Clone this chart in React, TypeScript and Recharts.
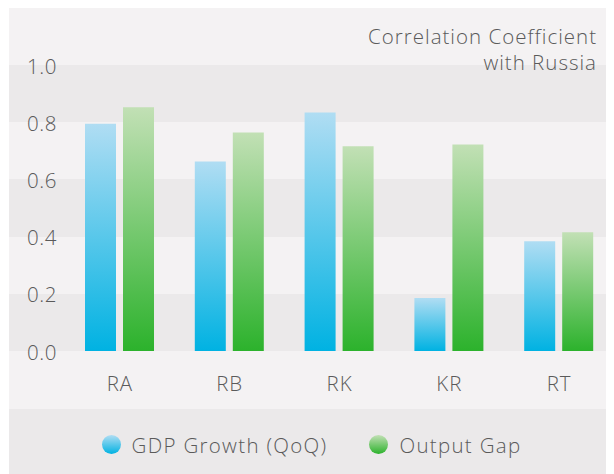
import { BarChart, Bar, XAxis, YAxis, CartesianGrid, Legend } from "recharts";

const CATEGORIES = ["RA", "RB", "RK", "KR", "RT"];
const GDP_GROWTH = [0.795, 0.663, 0.834, 0.185, 0.384];
const OUTPUT_GAP = [0.852, 0.764, 0.716, 0.722, 0.415];
const Y_TICKS = [0, 0.2, 0.4, 0.6, 0.8, 1.0];

const FONT = "'Open Sans', Lato, sans-serif";
const TEXT = "#5a5a5a";
const PANEL = "#f4f2f3";
const BAND = "#ebe9ea";
const FONT_SIZE = 20.5;
const SPACING = 1;

const data = CATEGORIES.map((name, i) => ({
  name,
  gdp: GDP_GROWTH[i],
  gap: OUTPUT_GAP[i],
}));

const SERIES = [
  { key: "gdp", label: "GDP Growth (QoQ)", top: "#b0ddf3", bottom: "#00b2e2" },
  { key: "gap", label: "Output Gap", top: "#c2e0b5", bottom: "#2cb22c" },
];

function YTick({ x, y, payload }: any) {
  return (
    <text
      x={x + 48}
      y={y + 8.5}
      textAnchor="end"
      fill={TEXT}
      fontSize={FONT_SIZE}
      fontWeight={300}
      fontFamily={FONT}
      letterSpacing={0.6}
    >
      {Number(payload.value).toFixed(1)}
    </text>
  );
}

function XTick({ x, y, payload }: any) {
  return (
    <text
      x={x}
      y={y + 40}
      textAnchor="middle"
      fill={TEXT}
      fontSize={FONT_SIZE}
      fontWeight={300}
      fontFamily={FONT}
      letterSpacing={SPACING}
    >
      {payload.value}
    </text>
  );
}

function LegendContent() {
  return (
    <div
      style={{
        display: "flex",
        justifyContent: "center",
        alignItems: "center",
        height: 65,
        paddingTop: 6,
        boxSizing: "border-box",
        gap: 42,
      }}
    >
      {SERIES.map((s) => (
        <div key={s.key} style={{ display: "flex", alignItems: "center", gap: 11 }}>
          <span
            style={{
              display: "inline-block",
              width: 19,
              height: 19,
              borderRadius: "50%",
              background: `linear-gradient(to bottom, ${s.top}, ${s.bottom})`,
            }}
          />
          <span
            style={{
              fontSize: FONT_SIZE,
              fontWeight: 300,
              color: TEXT,
              fontFamily: FONT,
              letterSpacing: 1.3,
            }}
          >
            {s.label}
          </span>
        </div>
      ))}
    </div>
  );
}

export default function App() {
  return (
    <div
      style={{
        position: "relative",
        marginTop: -2,
        marginLeft: 1,
        width: 605,
        height: 468,
        background: PANEL,
        fontFamily: FONT,
      }}
    >
      <div
        style={{
          position: "absolute",
          right: 17,
          top: 17,
          textAlign: "right",
          fontSize: FONT_SIZE,
          fontWeight: 300,
          lineHeight: "26px",
          letterSpacing: SPACING,
          color: TEXT,
          zIndex: 2,
        }}
      >
        Correlation Coefficient
        <br />
        with Russia
      </div>
      <BarChart
        width={605}
        height={468}
        data={data}
        margin={{ top: 59, right: 0, bottom: 0, left: -56 }}
        barSize={31}
        barGap={7}
      >
        <defs>
          {SERIES.map((s) => (
            <linearGradient key={s.key} id={`grad-${s.key}`} x1="0" y1="0" x2="0" y2="1">
              <stop offset="0%" stopColor={s.top} />
              <stop offset="100%" stopColor={s.bottom} />
            </linearGradient>
          ))}
        </defs>
        <CartesianGrid vertical={false} stroke="none" horizontalFill={[BAND, PANEL]} />
        <XAxis
          dataKey="name"
          padding={{ left: 56, right: 0 }}
          axisLine={false}
          tickLine={false}
          tickSize={0}
          tickMargin={0}
          height={58}
          tick={<XTick />}
          interval={0}
        />
        <YAxis
          domain={[0, 1]}
          ticks={Y_TICKS}
          width={56}
          axisLine={false}
          tickLine={false}
          tickSize={0}
          tickMargin={0}
          tick={<YTick />}
          interval={0}
        />
        <Legend
          verticalAlign="bottom"
          height={65}
          wrapperStyle={{ background: BAND, height: 65, left: 0, width: 605 }}
          content={<LegendContent />}
        />
        {SERIES.map((s) => (
          <Bar key={s.key} dataKey={s.key} name={s.label} fill={`url(#grad-${s.key})`} isAnimationActive={false} />
        ))}
      </BarChart>
    </div>
  );
}
